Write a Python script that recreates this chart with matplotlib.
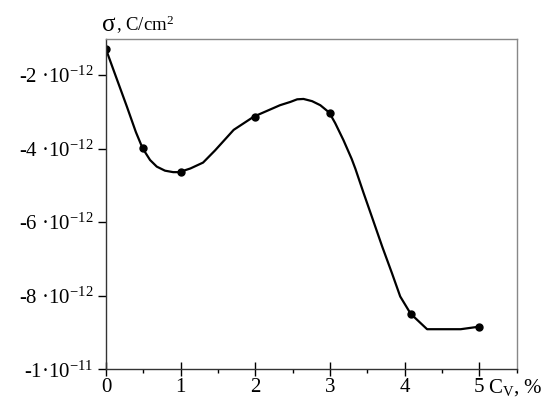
import matplotlib
matplotlib.use("Agg")
import matplotlib.pyplot as plt
import matplotlib.transforms as mtransforms

plt.rcParams["font.family"] = ["Liberation Serif", "DejaVu Serif"]
plt.rcParams["mathtext.fontset"] = "custom"
plt.rcParams["mathtext.rm"] = "Liberation Serif"
plt.rcParams["mathtext.it"] = "Liberation Serif"

# --- Measured points (C_v %, sigma in units of 1e-12 C/cm^2) ---
cv_points    = [0.0, 0.5, 1.0, 2.0, 3.0, 4.08, 5.0]
sigma_points = [-1.30, -3.99, -4.64, -3.13, -3.02, -8.49, -8.84]

# --- Smooth curve ---
curve_x = [0.0, 0.10, 0.28, 0.40, 0.49, 0.59, 0.68, 0.79, 0.90, 0.98, 1.13,
           1.30, 1.46, 1.71, 1.98, 2.24, 2.33, 2.47, 2.56, 2.645, 2.76, 2.87,
           2.99, 3.07, 3.18, 3.29, 3.34, 3.45, 3.56, 3.70, 3.83, 3.94, 4.08,
           4.30, 4.75, 5.0]
curve_y = [-1.30, -1.86, -2.86, -3.55, -3.99, -4.31, -4.49, -4.60, -4.64, -4.64, -4.54,
           -4.38, -4.05, -3.49, -3.13, -2.90, -2.82, -2.73, -2.66, -2.65, -2.71, -2.82,
           -3.02, -3.31, -3.77, -4.28, -4.55, -5.21, -5.85, -6.67, -7.39, -8.02, -8.49,
           -8.91, -8.91, -8.84]

y_ticks  = [-2, -4, -6, -8, -10]
y_labels = ["-2 ·10$^{\\mathregular{-12}}$", "-4 ·10$^{\\mathregular{-12}}$",
            "-6 ·10$^{\\mathregular{-12}}$", "-8 ·10$^{\\mathregular{-12}}$",
            "-1·10$^{\\mathregular{-11}}$"]
x_ticks  = [0, 1, 2, 3, 4, 5]

W, H = 559, 405
fig = plt.figure(figsize=(W / 100, H / 100), dpi=100)
ax = fig.add_axes([106 / W, 1 - 369.3 / H, (516.7 - 106) / W, (369.3 - 39) / H])

ax.plot(curve_x, curve_y, color="black", linewidth=1.6,
        solid_joinstyle="round", solid_capstyle="round")
ax.plot(cv_points, sigma_points, "o", color="black", markersize=5)

ax.set_xlim(0, 5.5)
ax.set_ylim(-10, -1.02)

ax.set_xticks(x_ticks)
ax.set_xticks([0.5, 1.5, 2.5, 3.5, 4.5, 5.5], minor=True)
ax.set_yticks(y_ticks)
ax.set_yticklabels(y_labels)

ax.tick_params(axis="x", which="major", direction="inout", length=10, width=1,
               labelsize=15, pad=1)
ax.tick_params(axis="x", which="minor", direction="out", length=3, width=1)
ax.tick_params(axis="y", which="major", direction="out", length=6, width=1,
               labelsize=15, pad=3)

for side in ["top", "right"]:
    ax.spines[side].set_color("#888888")
    ax.spines[side].set_linewidth(1)
for side in ["left", "bottom"]:
    ax.spines[side].set_color("#333333")
    ax.spines[side].set_linewidth(1)

# axis titles
trans = mtransforms.blended_transform_factory(ax.transData, fig.transFigure)
ax.text(5.12, 1 - 393 / H, r"C$_\mathregular{V}$, %", transform=trans,
        fontsize=15, ha="left", va="baseline")
fig.text(102 / W, 1 - 31 / H, "σ", fontsize=18, ha="left", va="baseline")
fig.text(116 / W, 1 - 31 / H, r", C/cm$^\mathregular{2}$", fontsize=13.5,
         ha="left", va="baseline")

fig.savefig("out.png", dpi=100)
